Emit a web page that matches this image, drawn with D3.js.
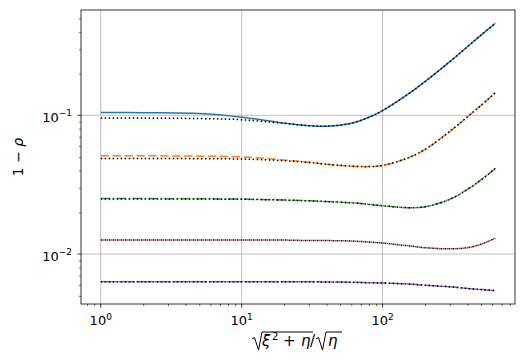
<!DOCTYPE html>
<html lang="en">
<head>
<meta charset="UTF-8">
<script src="https://d3js.org/d3.v7.min.js"></script>
<style>
body { margin: 0; background: white; }
text { font-family: "DejaVu Sans", sans-serif; fill: black; }
</style>
</head>
<body>
<div id="chart"></div>
<script>
// sample points
var xs = [1, 2, 5, 10, 20, 30, 40, 60, 80, 100, 150, 200, 300, 400, 500, 631];

var exact1 = [0.105, 0.1045, 0.103, 0.097, 0.088, 0.0843, 0.0834, 0.0876, 0.0968, 0.1083, 0.141, 0.1748, 0.2439, 0.3124, 0.3793, 0.461];
var exact2 = [0.0512, 0.0511, 0.0508, 0.0502, 0.0476, 0.0459, 0.0444, 0.043, 0.0427, 0.0435, 0.0491, 0.0567, 0.0765, 0.0975, 0.118, 0.1456];
var exact3 = [0.0251, 0.0251, 0.025, 0.0249, 0.0245, 0.0242, 0.0239, 0.0234, 0.0228, 0.0223, 0.0216, 0.0219, 0.0248, 0.0292, 0.0342, 0.0414];
var exact4 = [0.0126, 0.0126, 0.0126, 0.0126, 0.0126, 0.0125, 0.0125, 0.0124, 0.0122, 0.012, 0.01148, 0.0111, 0.0109, 0.0111, 0.01175, 0.013];
var exact5 = [0.00632, 0.00632, 0.00632, 0.00631, 0.0063, 0.0063, 0.00629, 0.00625, 0.00621, 0.00618, 0.00608, 0.00596, 0.0058, 0.00565, 0.00554, 0.00545];

var approx1 = [0.0955, 0.0955, 0.0948, 0.093, 0.0875, 0.0841, 0.0834, 0.0876, 0.0968, 0.1083, 0.141, 0.1748, 0.2439, 0.3124, 0.3793, 0.461];
var approx2 = [0.0488, 0.0488, 0.0487, 0.0484, 0.0471, 0.0457, 0.0444, 0.043, 0.0427, 0.0435, 0.0491, 0.0567, 0.0765, 0.0975, 0.118, 0.1456];
var approx3 = [0.0249, 0.0249, 0.0249, 0.0248, 0.0245, 0.0242, 0.0239, 0.0234, 0.0228, 0.0223, 0.0216, 0.0219, 0.0248, 0.0292, 0.0342, 0.0414];
var approx4 = exact4;
var approx5 = exact5;

var colors = ["#1f77b4", "#ff7f0e", "#2ca02c", "#d62728", "#9467bd"];
var dashes = [null, "8.3,3.6", "9.6,2.4,1.5,2.4", "1.5,2.5", "16,2"];

var W = 527, H = 359;
var margin = {top: 10, right: 12, bottom: 55, left: 81};

var svg = d3.select("#chart").append("svg")
  .attr("width", W).attr("height", H);

var x = d3.scaleLog().domain([0.724, 871]).range([margin.left, W - margin.right]);
var y = d3.scaleLog().domain([0.00436, 0.575]).range([H - margin.bottom, margin.top]);

function inX(v) { return v >= x.domain()[0] && v <= x.domain()[1]; }
function inY(v) { return v >= y.domain()[0] && v <= y.domain()[1]; }

// grid
var gx = [1, 10, 100], gy = [0.01, 0.1];
svg.append("g").selectAll("line").data(gx).enter().append("line")
  .attr("x1", d => x(d)).attr("x2", d => x(d))
  .attr("y1", margin.top).attr("y2", H - margin.bottom)
  .attr("stroke", "#b0b0b0").attr("stroke-width", 0.8);
svg.append("g").selectAll("line").data(gy).enter().append("line")
  .attr("y1", d => y(d)).attr("y2", d => y(d))
  .attr("x1", margin.left).attr("x2", W - margin.right)
  .attr("stroke", "#b0b0b0").attr("stroke-width", 0.8);

var line = d3.line()
  .x(d => x(d[0])).y(d => y(d[1]))
  .curve(d3.curveCatmullRom.alpha(0.5));

var plot = svg.append("g");
var exact = [exact1, exact2, exact3, exact4, exact5];
var approx = [approx1, approx2, approx3, approx4, approx5];

exact.forEach(function(s, i) {
  var p = plot.append("path")
    .attr("d", line(xs.map((v, j) => [v, s[j]])))
    .attr("fill", "none").attr("stroke", colors[i]).attr("stroke-width", 1.5);
  if (dashes[i]) p.attr("stroke-dasharray", dashes[i]);
  if (i == 3) p.attr("stroke-dashoffset", 2);
});
approx.forEach(function(s, i) {
  plot.append("path")
    .attr("d", line(xs.map((v, j) => [v, s[j]])))
    .attr("fill", "none").attr("stroke", "black").attr("stroke-width", 1.5)
    .attr("stroke-dasharray", "1.5,2.5");
});

// minor ticks
var xMinor = [];
[0.1, 1, 10, 100].forEach(b => d3.range(2, 10).forEach(k => xMinor.push(k * b)));
var yMinor = [];
[0.001, 0.01, 0.1].forEach(b => d3.range(2, 10).forEach(k => yMinor.push(k * b)));

svg.append("g").attr("transform", "translate(0," + (H - margin.bottom) + ")")
  .call(d3.axisBottom(x).tickValues(xMinor.filter(inX)).tickFormat("").tickSize(2).tickSizeOuter(0))
  .call(g => g.select(".domain").remove());
svg.append("g").attr("transform", "translate(" + margin.left + ",0)")
  .call(d3.axisLeft(y).tickValues(yMinor.filter(inY)).tickFormat("").tickSize(2).tickSizeOuter(0))
  .call(g => g.select(".domain").remove());
svg.selectAll(".tick line").attr("stroke-width", 0.6);

// major ticks
svg.append("g").selectAll("line").data(gx).enter().append("line")
  .attr("x1", d => x(d)).attr("x2", d => x(d))
  .attr("y1", H - margin.bottom).attr("y2", H - margin.bottom + 3.5)
  .attr("stroke", "black").attr("stroke-width", 0.8);
svg.append("g").selectAll("line").data(gy).enter().append("line")
  .attr("y1", d => y(d)).attr("y2", d => y(d))
  .attr("x1", margin.left).attr("x2", margin.left - 3.5)
  .attr("stroke", "black").attr("stroke-width", 0.8);

// frame
svg.append("rect")
  .attr("x", margin.left).attr("y", margin.top)
  .attr("width", W - margin.left - margin.right)
  .attr("height", H - margin.top - margin.bottom)
  .attr("fill", "none").attr("stroke", "black").attr("stroke-width", 0.8);

// tick labels
var xExp = ["0", "1", "2"], yExp = ["\u22122", "\u22121"];
gx.forEach(function(d, i) {
  var t = svg.append("text").attr("x", x(d)).attr("y", H - margin.bottom + 21)
    .attr("text-anchor", "middle").attr("font-size", 13);
  t.append("tspan").text("10");
  t.append("tspan").attr("font-size", 9).attr("dy", -5.5).text(xExp[i]);
});
gy.forEach(function(d, i) {
  var t = svg.append("text").attr("x", margin.left - 9).attr("y", y(d) + 6.5)
    .attr("text-anchor", "end").attr("font-size", 13);
  t.append("tspan").text("10");
  t.append("tspan").attr("font-size", 9).attr("dy", -5.5).text(yExp[i]);
});

// y label
svg.append("text")
  .attr("transform", "translate(23," + ((margin.top + H - margin.bottom) / 2) + ") rotate(-90)")
  .attr("text-anchor", "middle").attr("font-size", 14)
  .html('1 \u2212 <tspan font-style="italic">\u03c1</tspan>');

// x label: sqrt(xi^2 + eta) / sqrt(eta)
var lab = svg.append("g");
var base = 346;
lab.append("path")
  .attr("d", "M252,339 L254.5,337.5 L258.5,350 L262,332 L313,332")
  .attr("fill", "none").attr("stroke", "black").attr("stroke-width", 1);
lab.append("text").attr("x", 262).attr("y", base).attr("font-size", 15)
  .attr("font-style", "italic").text("\u03be");
lab.append("text").attr("x", 272).attr("y", base - 6).attr("font-size", 10).text("2");
lab.append("text").attr("x", 283).attr("y", base).attr("font-size", 15).text("+");
lab.append("text").attr("x", 301).attr("y", base).attr("font-size", 15)
  .attr("font-style", "italic").text("\u03b7");
lab.append("text").attr("x", 310).attr("y", base).attr("font-size", 15).text("/");
lab.append("path")
  .attr("d", "M316,339 L318.5,337.5 L322.5,350 L326,332 L342,332")
  .attr("fill", "none").attr("stroke", "black").attr("stroke-width", 1);
lab.append("text").attr("x", 328).attr("y", base).attr("font-size", 15)
  .attr("font-style", "italic").text("\u03b7");
</script>
</body>
</html>
